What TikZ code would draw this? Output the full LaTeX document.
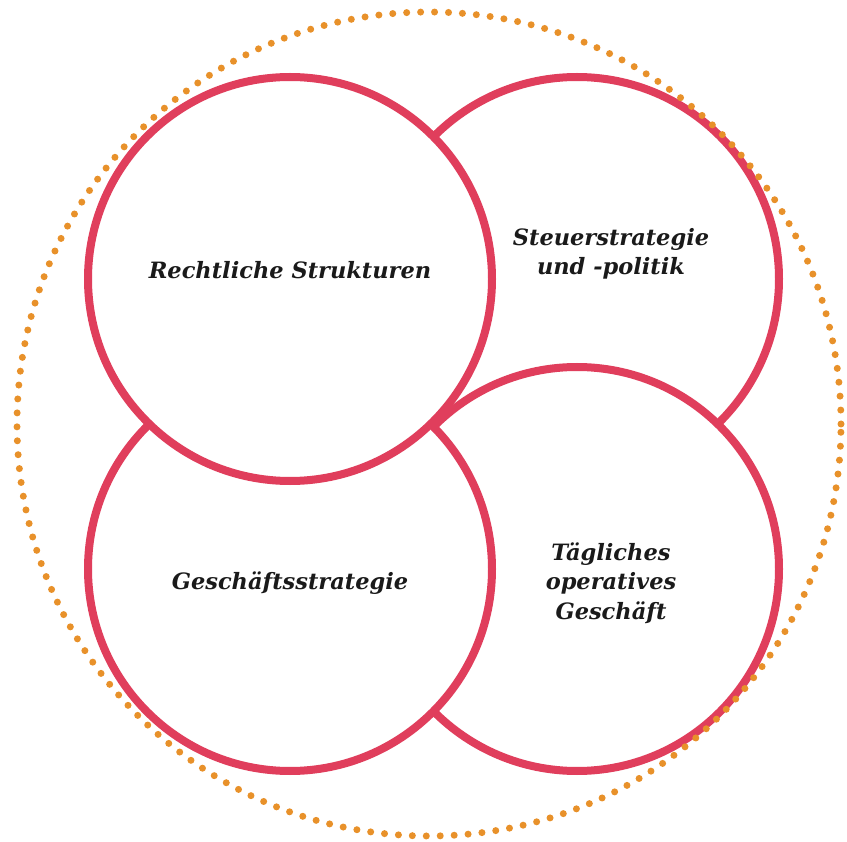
\documentclass[tikz,border=0pt]{standalone}
\usepackage{fontspec}
\setmainfont{DejaVu Serif}
\definecolor{ringred}{RGB}{224,62,92}
\definecolor{dotorange}{RGB}{232,145,42}
\definecolor{inktext}{RGB}{26,26,26}
\begin{document}
\begin{tikzpicture}[x=1pt,y=-1pt,
  ring/.style={circle, draw=ringred, fill=white, line width=8pt, minimum size=404pt, inner sep=0pt},
  outerring/.style={circle, draw=dotorange, line width=7pt, dash pattern=on 0pt off 13.95pt, line cap=round, minimum size=824pt, inner sep=0pt},
  lbl/.style={text=inktext, font=\fontsize{22.5}{29.5}\selectfont\bfseries\itshape, align=center, inner sep=0pt}]
\useasboundingbox (0,0) rectangle (847,842);
\node[ring] (tr) at (577,279) {};
\node[ring] (br) at (577,569) {};
\node[ring] (bl) at (290,569) {};
\node[ring] (tl) at (290,279) {};
\node[outerring] (outer) at (429,424) {};
\node[lbl] (tltext) at (290,270) {Rechtliche Strukturen};
\node[lbl] (trtext) at (611,254) {Steuerstrategie\\und -politik};
\node[lbl] (bltext) at (290,583) {Geschäftsstrategie};
\node[lbl] (brtext) at (611,583) {Tägliches\\operatives\\Geschäft};
\end{tikzpicture}
\end{document}
